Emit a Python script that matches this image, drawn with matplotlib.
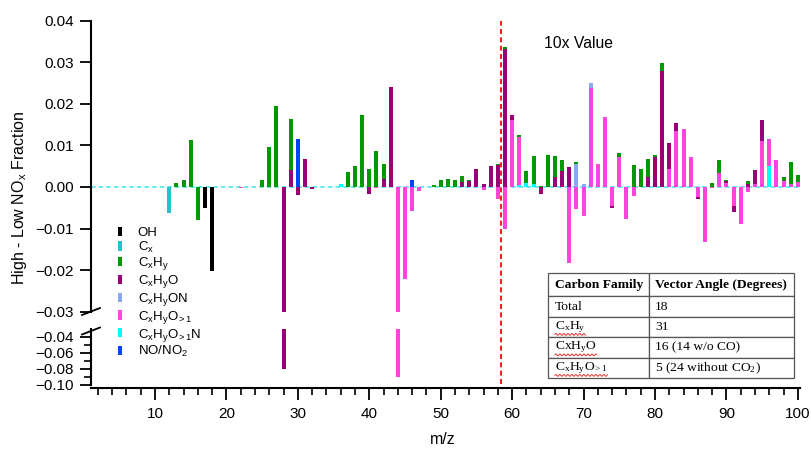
import numpy as np
import matplotlib
matplotlib.use("Agg")
import matplotlib.pyplot as plt
from matplotlib.lines import Line2D
from matplotlib.ticker import FuncFormatter

plt.rcParams['font.family'] = ['Liberation Sans', 'DejaVu Sans']
plt.rcParams['mathtext.default'] = 'regular'

# m/z axis
mz = np.arange(1, 101)

# High - Low NOx fraction per carbon family (m/z > 58.5 shown at 10x)
oh = {17: -0.0050, 18: -0.0201}
cx = {12: -0.0063}
cxhy = {13: 0.0009, 14: 0.0017, 15: 0.0113, 16: -0.0079, 25: 0.0017, 26: 0.0097,
        27: 0.0195, 29: 0.0122, 37: 0.0035, 38: 0.0051, 39: 0.0172, 40: 0.0043,
        41: 0.0087, 42: 0.0036, 49: 0.0004, 50: 0.0018, 51: 0.0020, 52: 0.0018,
        53: 0.0013, 54: 0.0004, 58: 0.0003, 59: 0.0004, 61: 0.0004, 62: 0.0028,
        63: 0.0066, 64: 0.0003, 65: 0.0078, 66: 0.0050, 67: 0.0028, 69: 0.0006,
        75: 0.0010, 77: 0.0054, 78: 0.0044, 79: 0.0044, 80: 0.0004, 81: 0.0018,
        88: 0.0009, 89: 0.0030, 90: 0.0002, 93: 0.0006, 98: 0.0010, 99: 0.0052,
        100: 0.0018}
cxhyo = {28: -0.0804, 29: 0.0041, 30: -0.0019, 31: 0.0067, 32: -0.0005, 40: -0.0018,
         42: 0.0020, 43: 0.0240, 53: 0.0013, 54: 0.0014, 55: 0.0043, 56: 0.0006,
         57: 0.0050, 58: 0.0053, 59: 0.0333, 60: 0.0012, 64: -0.0016, 66: 0.0024,
         67: 0.0038, 68: 0.0047, 74: -0.0005, 79: 0.0023, 80: 0.0072, 81: 0.0280,
         82: 0.0064, 83: 0.0018, 86: -0.0004, 90: 0.0004, 91: -0.0015, 93: 0.0008,
         94: 0.0034, 95: 0.0050}
cxhyon = {69: 0.0055, 70: 0.0008, 71: 0.0012}
cxhyo1 = {22: -0.0003, 41: -0.0003, 44: -0.0896, 45: -0.0221, 46: -0.0058, 47: -0.0010,
          56: -0.0008, 58: -0.0029, 59: -0.0100, 60: 0.0160, 61: 0.0116, 68: -0.0183,
          69: -0.0054, 70: -0.0070, 71: 0.0237, 72: 0.0056, 73: 0.0168, 74: -0.0046,
          75: 0.0072, 76: -0.0078, 77: -0.0022, 82: 0.0043, 83: 0.0135, 84: 0.0140,
          85: 0.0071, 86: -0.0024, 87: -0.0132, 88: -0.0003, 89: 0.0034, 90: 0.0010,
          91: -0.0046, 92: -0.0090, 93: -0.0012, 94: 0.0006, 95: 0.0110, 96: 0.0065,
          97: 0.0066, 98: 0.0014, 99: 0.0008, 100: 0.0012}
cxhyo1n = {36: 0.0006, 61: 0.0004, 62: 0.0010, 63: 0.0008, 96: 0.0050}
nox = {30: 0.0115, 46: 0.0016}

families = [oh, cx, cxhy, cxhyo, cxhyon, cxhyo1, cxhyo1n, nox]
family_names = ['OH', 'C$_x$', 'C$_x$H$_y$', 'C$_x$H$_y$O', 'C$_x$H$_y$ON',
                r'C$_x$H$_y$O$_{\!{>}1}$', r'C$_x$H$_y$O$_{\!{>}1}$N', 'NO/NO$_2$']
family_colors = ['#000000', '#22C4CC', '#009A00', '#990078', '#8AA8F2',
                 '#FF44DD', '#00FFFF', '#0044FF']

table_header = ['Carbon Family', 'Vector Angle (Degrees)']
table_rows = ['Total', 'C$_x$H$_y$', 'CxH$_y$O', r'C$_x$H$_y$O$_{\!{>}1}$']
table_angles = ['18', '31', '16 (14 w/o CO)', '5 (24 without CO$_2$)']

W, H = 811, 451


def px(x0, y0, x1, y1):
    return [x0 / W, 1 - y1 / H, (x1 - x0) / W, (y1 - y0) / H]


def draw_bars(ax):
    pos = np.zeros(len(mz))
    neg = np.zeros(len(mz))
    handles = [None] * len(families)
    # stacked from the last family up
    for i in reversed(range(len(families))):
        vals = np.array([families[i].get(m, 0.0) for m in mz])
        bottom = np.where(vals >= 0, pos, neg)
        handles[i] = ax.bar(mz, vals, width=0.55, bottom=bottom,
                            color=family_colors[i], linewidth=0, zorder=3)
        pos += np.clip(vals, 0, None)
        neg += np.clip(vals, None, 0)
    ax.axhline(0, color='#40E6E6', lw=1.1, ls=(0, (3, 2)), zorder=2)
    return handles


fmt = FuncFormatter(lambda v, p: f'{v:.2f}'.replace('-', '\u2212'))

fig = plt.figure(figsize=(W / 100, H / 100), dpi=100)
axb = fig.add_axes(px(90.7, 329, 800, 385))
ax = fig.add_axes(px(90.7, 20.7, 800, 311.7))
axb.patch.set_visible(False)
ax.patch.set_visible(False)

handles = draw_bars(ax)
draw_bars(axb)

for a in (ax, axb):
    a.set_xlim(1, 100.3)
    a.spines['right'].set_visible(False)
    a.spines['top'].set_visible(False)
    a.spines['left'].set_linewidth(1.5)
    a.yaxis.set_major_formatter(fmt)
    a.tick_params(axis='y', which='major', direction='out', length=8, width=1.3,
                  labelsize=11, pad=4)
    a.tick_params(axis='y', which='minor', direction='out', length=5, width=1.2)

ax.set_ylim(-0.03, 0.04)
ax.set_yticks(np.arange(-0.03, 0.0401, 0.01))
ax.spines['bottom'].set_visible(False)
ax.tick_params(axis='x', bottom=False, labelbottom=False)

axb.set_ylim(-0.10, -0.03)
axb.set_yticks([-0.10, -0.08, -0.06, -0.04])
axb.set_yticks([-0.09, -0.07, -0.05], minor=True)
axb.spines['bottom'].set_position(('outward', 2))
axb.spines['bottom'].set_linewidth(1.5)
axb.set_xticks(range(10, 101, 10))
axb.set_xticks([m for m in range(2, 101, 2) if m % 10], minor=True)
axb.tick_params(axis='x', which='major', direction='out', length=8.5, width=1.3,
                labelsize=11, pad=5)
axb.tick_params(axis='x', which='minor', direction='out', length=5, width=1.2)

# red divider for the 10x region
ax.axvline(58.5, ymin=-0.25, ymax=1, color='#FF2020', lw=1.5, ls=(0, (2.4, 1.6)),
           clip_on=False, zorder=4)
ax.text(64.47, 0.0346, '10x Value', fontsize=11.3, va='center')

# axis break marks
for yb in (311.5, 331):
    fig.add_artist(Line2D([82 / W, 100 / W], [1 - (yb + 3.5) / H, 1 - (yb - 3.5) / H],
                          color='black', lw=1.3))

fig.text(20 / W, 1 - 198 / H, 'High - Low NO$_x$ Fraction', rotation=90,
         ha='center', va='center', fontsize=11.5)
fig.text(443 / W, 1 - 439 / H, 'm/z', ha='center', va='center', fontsize=11.5)

fig.legend(handles, family_names, loc='upper left', bbox_to_anchor=(118 / W, 1 - 226.5 / H),
           frameon=False, fontsize=9.5, handlelength=0.3, handleheight=0.7,
           handletextpad=1.2, labelspacing=0.06, borderpad=0, borderaxespad=0)

# vector angle table
tax = fig.add_axes(px(548.3, 273.3, 794.3, 378.3))
tax.axis('off')
tbl = tax.table(cellText=[[r, a] for r, a in zip(table_rows, table_angles)],
                colLabels=table_header, colWidths=[0.409, 0.591],
                cellLoc='left', colLoc='left', bbox=[0, 0, 1, 1])
tbl.auto_set_font_size(False)
tbl.set_fontsize(9.7)
for (r, c), cell in tbl.get_celld().items():
    cell.set_edgecolor('#555555')
    cell.set_linewidth(0.9)
    cell.set_height(23 if r == 0 else 20.5)
    cell.PAD = 0.065 if c == 0 else 0.042
    cell.get_text().set_fontfamily('Liberation Serif')
    if r == 0:
        cell.get_text().set_fontweight('bold')

# spell-check squiggles under the formula rows
fig.canvas.draw()
rend = fig.canvas.get_renderer()
for row in (2, 3, 4):
    bb = tbl[row, 0].get_text().get_window_extent(rend)
    xs = np.linspace(bb.x0, bb.x1, 80)
    ys = bb.y0 + 0.5 + 0.9 * np.sin((xs - bb.x0) * np.pi / 2)
    fig.add_artist(Line2D(xs / W, ys / H, color='#E03030', lw=0.7))

fig.savefig('out.png', dpi=100)
